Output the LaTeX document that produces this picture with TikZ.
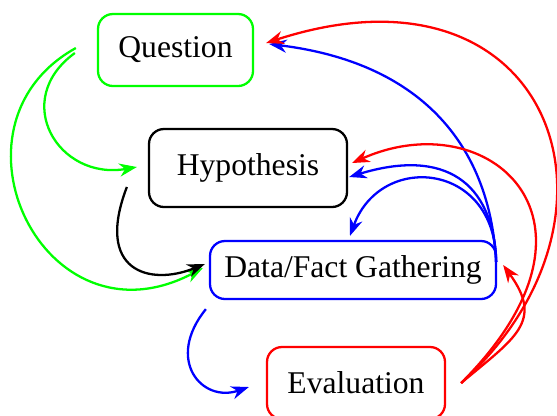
\documentclass[tikz,border=0pt]{standalone}
\usepackage{fontspec}
\setmainfont{Liberation Serif}
\usetikzlibrary{arrows.meta}

\begin{document}
\begin{tikzpicture}[>={Stealth[length=10pt,width=7.5pt]},
  box/.style={draw=#1,line width=1.3pt,rounded corners=0.3cm,inner sep=0pt,
    font=\fontsize{18}{21.6}\selectfont},
  link/.style={->,line width=1.3pt}]
\useasboundingbox (0,0) rectangle (11.14,-8.3);
\node[box=green,minimum width=3.1cm,minimum height=1.44cm] (q) at (3.51,-1.0) {Question};
\node[box=black,minimum width=3.96cm,minimum height=1.56cm] (h) at (4.96,-3.36) {Hypothesis};
\node[box=blue,minimum width=5.72cm,minimum height=1.16cm] (d) at (7.06,-5.4) {Data/Fact Gathering};
\node[box=red,minimum width=3.56cm,minimum height=1.44cm] (e) at (7.12,-7.66) {Evaluation};
% question
\draw[link,green] ([xshift=-0.44cm,yshift=-0.06cm]q.west)
  .. controls +(216:1.6) and +(190:1.6) .. ([xshift=-0.22cm,yshift=0.02cm]h.west);
\draw[link,green] ([xshift=-0.42cm,yshift=0.04cm]q.west)
  .. controls +(209:3.2) and +(208:3.6) .. ([xshift=-0.12cm,yshift=0.04cm]d.west);
% hypothesis
\draw[link,black] ([xshift=-0.42cm,yshift=-0.38cm]h.west)
  .. controls +(249:1.8) and +(202:1.2) .. ([xshift=-0.08cm,yshift=0.12cm]d.west);
% data
\draw[link,blue] ([xshift=-0.06cm,yshift=-0.18cm]d.south west)
  .. controls +(231:1.3) and +(199:1.0) .. ([xshift=-0.34cm,yshift=-0.08cm]e.west);
\draw[link,blue] ([xshift=-0.02cm,yshift=0.16cm]d.east)
  .. controls +(93:2.4) and +(-7:3.0) .. ([xshift=0.3cm,yshift=0.12cm]q.east);
\draw[link,blue] ([xshift=-0.02cm,yshift=0.16cm]d.east)
  .. controls +(92:1.6) and +(17:2.0) .. ([xshift=0.02cm,yshift=-0.18cm]h.east);
\draw[link,blue] ([xshift=-0.02cm,yshift=0.16cm]d.east)
  .. controls +(90:2.0) and +(70:1.8) .. ([xshift=-0.06cm,yshift=0.08cm]d.north);
% evaluation
\draw[link,red] ([xshift=0.3cm,yshift=0cm]e.east)
  .. controls +(42:5.0) and +(18:6.0) .. ([xshift=0.24cm,yshift=0.14cm]q.east);
\draw[link,red] ([xshift=0.3cm,yshift=0cm]e.east)
  .. controls +(45:4.6) and +(24:3.0) .. ([xshift=0.08cm,yshift=0.1cm]h.east);
\draw[link,red] ([xshift=0.3cm,yshift=0cm]e.east)
  .. controls +(40:1.4) and +(-54:1.4) .. ([xshift=0.12cm,yshift=0.1cm]d.east);
\end{tikzpicture}
\end{document}
